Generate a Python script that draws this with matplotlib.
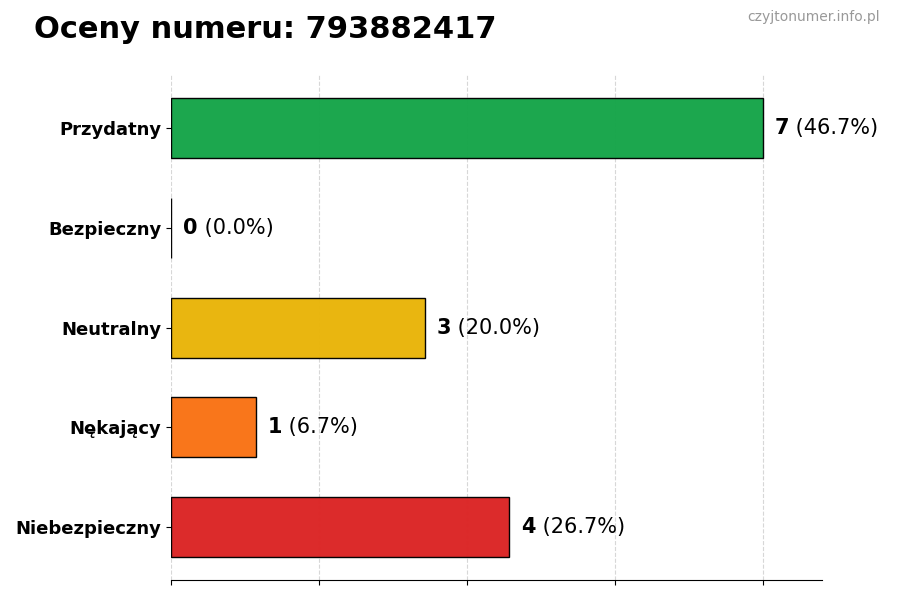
import numpy as np
import matplotlib
matplotlib.use('Agg')
import matplotlib.pyplot as plt

categories = ["Przydatny", "Bezpieczny", "Neutralny", "Nękający", "Niebezpieczny"]
counts = [7, 0, 3, 1, 4]
colors = ["#17a54a", "#22c55e", "#e9b50b", "#f97316", "#dc2626"]
phone = "793882417"

total = sum(counts)
pos = np.arange(len(categories))

fig = plt.figure(figsize=(9, 6), dpi=100)
ax = fig.add_axes([0.19, 0.033, 0.723, 0.842])

ax.barh(pos, counts, height=0.6, color=colors, edgecolor="black", linewidth=1, alpha=0.98, zorder=2)
ax.invert_yaxis()
ax.set_yticks(pos)
ax.set_yticklabels(categories, fontsize=13, fontweight="bold")

top = max(counts)
ax.set_xlim(0, top * 1.1)
ax.set_xticks(np.linspace(0, top, 5))
ax.set_xticklabels([])
ax.grid(True, axis="x", linestyle="--", alpha=0.5, zorder=0)

for side in ["top", "right", "left"]:
    ax.spines[side].set_visible(False)

for i, c in enumerate(counts):
    t = ax.text(c + top * 0.021, i, str(c), va="center", ha="left", fontsize=15, fontweight="bold")
    ax.annotate(" ({:.1f}%)".format(100.0 * c / total), xy=(1, 0.5), xycoords=t,
                va="center", ha="left", fontsize=15)

fig.text(0.038, 0.95, "Oceny numeru: " + phone, fontsize=22, fontweight="bold", va="center", ha="left")
fig.text(0.978, 0.971, "czyjtonumer.info.pl", fontsize=10, color="#999999", va="center", ha="right")

plt.savefig("out.png", dpi=100)
